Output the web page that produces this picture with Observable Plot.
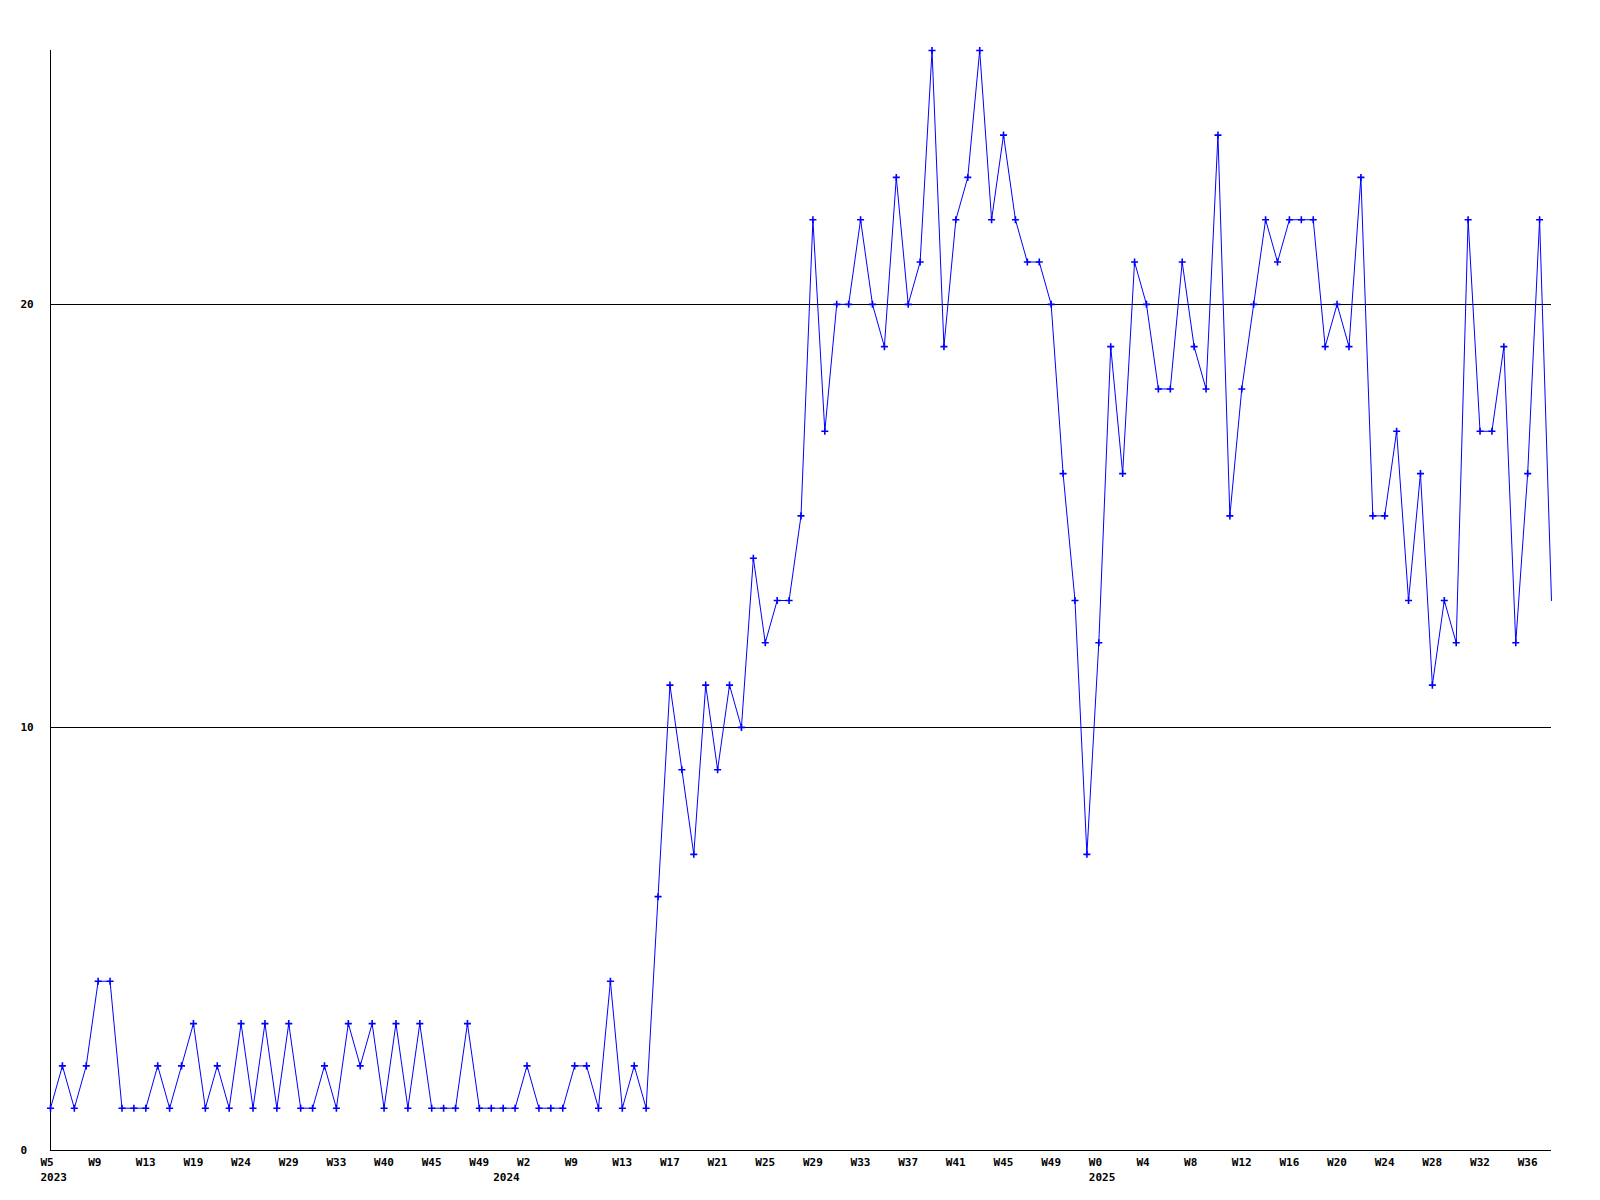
<!DOCTYPE html>
<html>
<head>
<meta charset="utf-8">
<script src="https://cdn.jsdelivr.net/npm/d3@7"></script>
<script src="https://cdn.jsdelivr.net/npm/@observablehq/plot@0.6"></script>
<style>
  html, body { margin: 0; padding: 0; background: #ffffff; }
  #chart svg { display: block; }
</style>
</head>
<body>
<div id="chart"></div>
<script>
// ISO week number of each data point (ordinal sequence of weeks with data)
const weeks = [
  5,6,7,8,9,10,11,12,13,14,16,17,19,20,21,22,24,25,26,27,29,30,31,32,33,35,37,38,40,41,42,43,45,46,47,48,49,51,
  0,1,2,4,6,7,9,10,11,12,13,14,15,16,17,18,19,20,21,22,23,24,25,26,27,28,29,30,31,32,33,34,35,36,37,38,39,40,41,42,43,44,45,46,47,48,49,50,51,52,
  0,1,2,3,4,5,6,7,8,9,10,11,12,13,14,15,16,17,18,19,20,21,22,23,24,25,26,27,28,29,30,31,32,33,34,35,36,37,38
];
// Weekly counts
const values = [
  1,2,1,2,4,4,1,1,1,2, 1,2,3,1,2,1,3,1,3,1, 3,1,1,2,1,3,2,3,1,3, 1,3,1,1,1,3,1,1,1,1, 2,1,1,1,2,2,1,4,1,2, 1,
  6,11,9,7,11,9,11,10,14,12, 13,13,15,22,17,20,20,22,20,19, 23,20,21,26,19,22,23,26,22,24,
  22,21,21,20,16,13,7,12,19,16, 21,20,18,18,21,19,18,24,15,18, 20,22,21,22,22,22,19,20,19,23,
  15,15,17,13,16,11,13,12,22,17, 17,19,12,16,22,13
];
// Year labels and the index of the first week of each year
const yearLabels = ["2023", "2024", "2025"];
const yearStart = [0, 38, 88];
// Y tick values
const yTicks = [0, 10, 20];

const data = values.map((v, i) => ({i, v, week: weeks[i]}));
const weekTicks = d3.range(0, values.length, 4);
const years = yearLabels.map((y, k) => ({year: y, i: yearStart[k]}));

const chart = Plot.plot({
  width: 1600,
  height: 1200,
  marginTop: 50,
  marginBottom: 50,
  marginLeft: 50,
  marginRight: 49,
  x: {domain: [0, values.length - 1], axis: null},
  y: {domain: [0, 26], axis: null},
  style: {
    fontFamily: "'DejaVu Sans Mono', monospace",
    fontWeight: "bold",
    fontSize: "11px",
    background: "#ffffff",
    color: "#000000"
  },
  marks: [
    Plot.ruleY(yTicks, {stroke: "#000000", strokeWidth: 1, strokeOpacity: 1, shapeRendering: "crispEdges"}),
    Plot.ruleX([0], {stroke: "#000000", strokeWidth: 1, strokeOpacity: 1, shapeRendering: "crispEdges"}),
    Plot.line(data, {x: "i", y: "v", stroke: "#0000ff", strokeWidth: 1}),
    Plot.dot(data.slice(0, -1), {x: "i", y: "v", symbol: "plus", r: 2.4, stroke: "#0000ff", strokeWidth: 1.6, fill: "none"}),
    Plot.text(yTicks, {x: 0, y: d => d, text: d => String(d), textAnchor: "start", dx: -30, fill: "#000000"}),
    Plot.text(weekTicks, {x: d => d, y: 0, text: d => "W" + weeks[d], textAnchor: "start", dx: -10, dy: 12, fill: "#000000"}),
    Plot.text(years, {x: "i", y: 0, text: "year", textAnchor: "start", dx: -10, dy: 27, fill: "#000000"})
  ]
});
document.getElementById("chart").appendChild(chart);
</script>
</body>
</html>
